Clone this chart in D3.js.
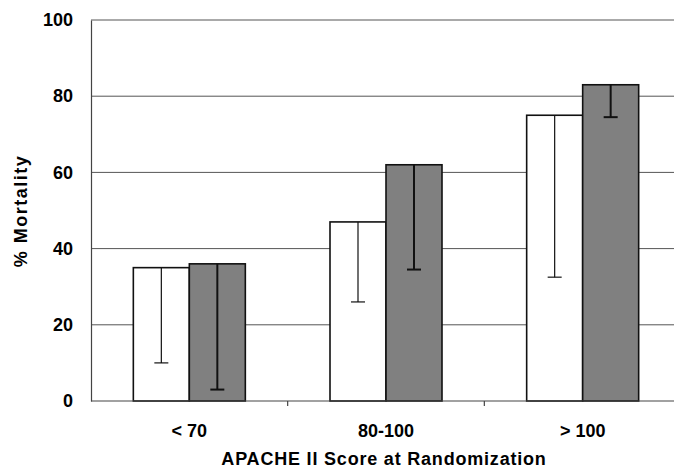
<!DOCTYPE html>
<html>
<head>
<meta charset="utf-8">
<script src="https://cdn.jsdelivr.net/npm/d3@7"></script>
<style>
  body { margin: 0; background: #fff; }
  text { font-family: Arial, "Liberation Sans", sans-serif; font-weight: bold; fill: #000; }
</style>
</head>
<body>
<div id="chart"></div>
<script>
// Dữ liệu
const categories = ["< 70", "80-100", "> 100"];
const whiteValues = [35, 47, 75];
const whiteLow = [10, 26, 32.5];
const grayValues = [36, 62, 83];
const grayLow = [3, 34.5, 74.5];
const yTicks = [0, 20, 40, 60, 80, 100];

const width = 674, height = 475;
const plotLeft = 91, plotTop = 20, plotBottom = 401, plotRight = 681;

const svg = d3.select('#chart').append('svg')
    .attr('width', width)
    .attr('height', height);

// Thang đo
const x0 = d3.scaleBand().domain(categories).range([plotLeft, plotRight]).padding(0);
const x1 = d3.scaleBand().domain([0, 1]).range([0, x0.bandwidth()])
    .paddingInner(0).paddingOuter(0.756);
const y = d3.scaleLinear().domain([0, 100]).range([plotBottom, plotTop]);

// Đường lưới ngang
svg.append('g')
    .selectAll('line')
    .data(yTicks.filter(d => d > 0))
    .enter().append('line')
    .attr('x1', plotLeft).attr('x2', width)
    .attr('y1', d => y(d)).attr('y2', d => y(d))
    .attr('stroke', '#555').attr('stroke-width', 1);

// Trục Y
const yAxis = svg.append('g')
    .attr('transform', `translate(${plotLeft},0)`)
    .call(d3.axisLeft(y).tickValues(yTicks).tickSize(0).tickPadding(18));
yAxis.select('.domain').attr('stroke', '#444').attr('stroke-width', 1.2);
yAxis.selectAll('text').attr('font-size', 18).style('font-family', 'Arial, "Liberation Sans", sans-serif').attr('font-weight', 'bold');

// Nhóm cột
const groups = categories.map((c, i) => ({
    cat: c,
    bars: [
        { k: 0, v: whiteValues[i], low: whiteLow[i] },
        { k: 1, v: grayValues[i], low: grayLow[i] }
    ]
}));

const g = svg.append('g')
    .selectAll('g')
    .data(groups)
    .enter().append('g')
    .attr('transform', d => `translate(${x0(d.cat)},0)`);

g.selectAll('rect')
    .data(d => d.bars)
    .enter().append('rect')
    .attr('x', d => x1(d.k))
    .attr('width', x1.bandwidth())
    .attr('y', d => y(d.v))
    .attr('height', d => y(0) - y(d.v))
    .attr('fill', d => d.k === 0 ? '#fff' : '#808080')
    .attr('stroke', '#111')
    .attr('stroke-width', 1.6);

// Thanh sai số (chỉ phía dưới)
const err = g.selectAll('g.err')
    .data(d => d.bars)
    .enter().append('g')
    .attr('class', 'err')
    .attr('stroke', '#111')
    .attr('stroke-width', d => d.k === 0 ? 1.2 : 2);
err.append('line')
    .attr('x1', d => x1(d.k) + x1.bandwidth() / 2)
    .attr('x2', d => x1(d.k) + x1.bandwidth() / 2)
    .attr('y1', d => y(d.v))
    .attr('y2', d => y(d.low));
err.append('line')
    .attr('x1', d => x1(d.k) + x1.bandwidth() / 2 - 7)
    .attr('x2', d => x1(d.k) + x1.bandwidth() / 2 + 7)
    .attr('y1', d => y(d.low))
    .attr('y2', d => y(d.low));

// Trục X
const xAxis = svg.append('g')
    .attr('transform', `translate(0,${plotBottom})`)
    .call(d3.axisBottom(x0).tickSize(0).tickPadding(23));
xAxis.select('.domain').remove();
xAxis.selectAll('text').attr('font-size', 18).style('font-family', 'Arial, "Liberation Sans", sans-serif').attr('font-weight', 'bold');
svg.append('line')
    .attr('x1', plotLeft).attr('x2', width)
    .attr('y1', plotBottom).attr('y2', plotBottom)
    .attr('stroke', '#444').attr('stroke-width', 1.2);
// Vạch chia giữa các nhóm
svg.append('g')
    .selectAll('line')
    .data(categories.slice(1))
    .enter().append('line')
    .attr('x1', d => x0(d)).attr('x2', d => x0(d))
    .attr('y1', plotBottom).attr('y2', plotBottom + 5)
    .attr('stroke', '#444').attr('stroke-width', 1.2);

// Nhãn trục
svg.append('text')
    .attr('x', 384)
    .attr('y', 465)
    .attr('text-anchor', 'middle')
    .attr('font-size', 18)
    .attr('letter-spacing', 0.8)
    .text('APACHE II Score at Randomization');

svg.append('text')
    .attr('transform', 'translate(27,211) rotate(-90)')
    .attr('text-anchor', 'middle')
    .attr('font-size', 18)
    .attr('letter-spacing', 1.5)
    .text('% Mortality');
</script>
</body>
</html>
